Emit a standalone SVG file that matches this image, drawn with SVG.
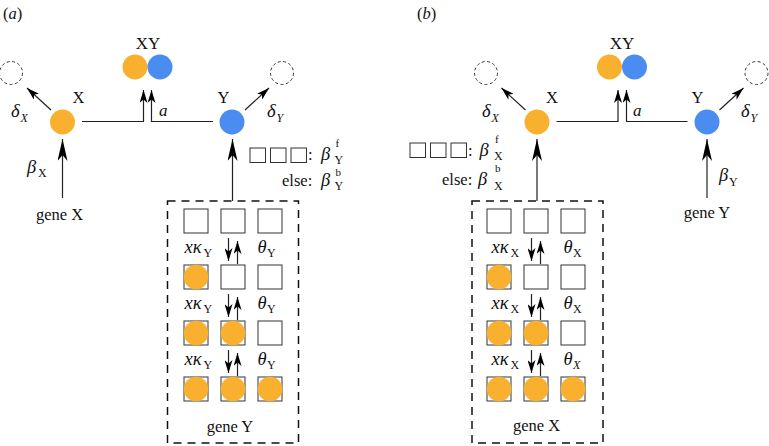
<svg xmlns="http://www.w3.org/2000/svg" width="769" height="446" viewBox="0 0 769 446">
<defs>
<style>
text{font-family:"Liberation Serif","Times New Roman",serif;fill:#111;font-size:16.5px}
.it{font-style:italic}
.gk{font-style:italic;font-size:18.5px}
.sub{font-size:12px}
.sup{font-size:11px}
.c{text-anchor:middle}
.or{fill:#F9B02F}
.bl{fill:#4A8CEF}
.dead{fill:none;stroke:#333;stroke-width:1;stroke-dasharray:3 2.5}
.sq{fill:#fff;stroke:#333;stroke-width:1}
.box{fill:none;stroke:#111;stroke-width:1.5;stroke-dasharray:8 6}
.ln{fill:none;stroke:#222;stroke-width:1.2}
.big{marker-end:url(#mb)}
.sm{marker-end:url(#ms)}
</style>
<marker id="mb" markerUnits="userSpaceOnUse" viewBox="0 0 22 10" refX="22" refY="5" markerWidth="22" markerHeight="10" orient="auto">
<path d="M0,0 L22,5 L0,10 L6,5 z" fill="#000"/>
</marker>
<marker id="ms" markerUnits="userSpaceOnUse" viewBox="0 0 13 8" refX="13" refY="4" markerWidth="13" markerHeight="8" orient="auto">
<path d="M0,0 L13,4 L0,8 L3.5,4 z" fill="#000"/>
</marker>
</defs>

<g id="connectors">
<path class="ln sm" d="M82,121.5 H143.5 V90"/>
<path class="ln sm" d="M213,121.5 H151.5 V90"/>
<path class="ln sm" d="M51,110 L27,88"/>
<path class="ln sm" d="M245,110 L269,88"/>
<path class="ln big" d="M62.5,198 V139"/>
<path class="ln big" d="M232.5,201 V139"/>
<path class="ln sm" d="M228.5,238 V261"/>
<path class="ln sm" d="M237.5,264 V241"/>
<path class="ln sm" d="M228.5,294 V317"/>
<path class="ln sm" d="M237.5,320 V297"/>
<path class="ln sm" d="M228.5,350 V373"/>
<path class="ln sm" d="M237.5,376 V353"/>
<path class="ln sm" d="M556.5,121.5 H618 V90"/>
<path class="ln sm" d="M687.5,121.5 H626.5 V90"/>
<path class="ln sm" d="M525.5,110 L501.5,88"/>
<path class="ln sm" d="M719.5,110 L743.5,88"/>
<path class="ln big" d="M537,201 V139"/>
<path class="ln big" d="M707,198 V139"/>
<path class="ln sm" d="M531.5,238 V261"/>
<path class="ln sm" d="M540.5,264 V241"/>
<path class="ln sm" d="M531.5,294 V317"/>
<path class="ln sm" d="M540.5,320 V297"/>
<path class="ln sm" d="M531.5,350 V373"/>
<path class="ln sm" d="M540.5,376 V353"/>
</g>

<!-- ===== Panel (a) ===== -->
<g id="a-title"><text x="3" y="19">(<tspan class="it">a</tspan>)</text></g>

<g id="a-deadX"><circle class="dead" cx="11" cy="73" r="11.5"/></g>
<g id="a-deadY"><circle class="dead" cx="282" cy="73" r="11.5"/></g>

<g id="a-XY">
<circle class="or" cx="135" cy="67" r="12.5"/>
<circle class="bl" cx="160" cy="67" r="12.5"/>
<text class="c" x="148" y="49" style="font-size:17px">XY</text>
</g>

<g id="a-X">
<circle class="or" cx="62.5" cy="122" r="12.5"/>
<text class="c" x="78.5" y="103">X</text>
</g>
<g id="a-Y">
<circle class="bl" cx="232" cy="122" r="12.5"/>
<text class="c" x="223.5" y="103">Y</text>
</g>

<g id="a-labels">
<text class="gk" x="11" y="117">δ</text><text class="sub it" x="20.5" y="122">X</text>
<text class="gk" x="267" y="117">δ</text><text class="sub it" x="276.5" y="122">Y</text>
<text class="it" x="159" y="116" style="font-size:17px">a</text>
<text class="gk" x="27" y="173">β</text><text class="sub" x="38" y="177">X</text>
</g>

<g id="a-geneX"><text class="c" x="59.5" y="220">gene X</text></g>

<g id="a-legend">
<rect class="sq" x="250" y="148" width="15.5" height="14.5"/>
<rect class="sq" x="270.5" y="148" width="15.5" height="14.5"/>
<rect class="sq" x="291" y="148" width="15.5" height="14.5"/>
<text x="308" y="160">:</text>
<text class="gk" x="321" y="160">β</text><text class="sup" x="335.5" y="147">f</text><text class="sub" x="334.5" y="163.5">Y</text>
<text x="282" y="186">else:</text>
<text class="gk" x="321" y="186">β</text><text class="sup" x="335.5" y="176">b</text><text class="sub" x="334.5" y="189.5">Y</text>
</g>

<g id="a-geneY">
<rect class="box" x="167.5" y="201" width="131" height="242"/>
<rect class="sq" x="184" y="209" width="24" height="24"/>
<rect class="sq" x="221" y="209" width="24" height="24"/>
<rect class="sq" x="258" y="209" width="24" height="24"/>
<rect class="sq" x="184" y="265" width="24" height="24"/>
<rect class="sq" x="221" y="265" width="24" height="24"/>
<rect class="sq" x="258" y="265" width="24" height="24"/>
<rect class="sq" x="184" y="321" width="24" height="24"/>
<rect class="sq" x="221" y="321" width="24" height="24"/>
<rect class="sq" x="258" y="321" width="24" height="24"/>
<rect class="sq" x="184" y="377" width="24" height="24"/>
<rect class="sq" x="221" y="377" width="24" height="24"/>
<rect class="sq" x="258" y="377" width="24" height="24"/>
<circle class="or" cx="196" cy="277" r="12.3"/>
<circle class="or" cx="196" cy="333" r="12.3"/>
<circle class="or" cx="233" cy="333" r="12.3"/>
<circle class="or" cx="196" cy="389" r="12.3"/>
<circle class="or" cx="233" cy="389" r="12.3"/>
<circle class="or" cx="270" cy="389" r="12.3"/>
<text class="gk" x="184.5" y="253">xκ</text><text class="sub" x="203.5" y="257">Y</text>
<text class="gk" x="257.5" y="253">θ</text><text class="sub" x="267" y="257">Y</text>
<text class="gk" x="184.5" y="309">xκ</text><text class="sub" x="203.5" y="313">Y</text>
<text class="gk" x="257.5" y="309">θ</text><text class="sub" x="267" y="313">Y</text>
<text class="gk" x="184.5" y="365">xκ</text><text class="sub" x="203.5" y="369">Y</text>
<text class="gk" x="257.5" y="365">θ</text><text class="sub" x="267" y="369">Y</text>
<text class="c" x="230" y="432">gene Y</text>
</g>

<!-- ===== Panel (b) ===== -->
<g id="b-title"><text x="417" y="19">(<tspan class="it">b</tspan>)</text></g>

<g id="b-deadX"><circle class="dead" cx="486" cy="73" r="11.5"/></g>
<g id="b-deadY"><circle class="dead" cx="756.5" cy="73" r="11.5"/></g>

<g id="b-XY">
<circle class="or" cx="609.5" cy="67" r="12.5"/>
<circle class="bl" cx="634.5" cy="67" r="12.5"/>
<text class="c" x="622" y="49" style="font-size:17px">XY</text>
</g>

<g id="b-X">
<circle class="or" cx="537" cy="122" r="12.5"/>
<text class="c" x="552" y="103">X</text>
</g>
<g id="b-Y">
<circle class="bl" cx="707" cy="122" r="12.5"/>
<text class="c" x="697.5" y="103">Y</text>
</g>

<g id="b-labels">
<text class="gk" x="482" y="117">δ</text><text class="sub it" x="491.5" y="122">X</text>
<text class="gk" x="741" y="117">δ</text><text class="sub it" x="750.5" y="122">Y</text>
<text class="it" x="633" y="116" style="font-size:17px">a</text>
<text class="gk" x="719" y="181">β</text><text class="sub" x="729" y="186">Y</text>
</g>

<g id="b-geneY"><text class="c" x="707" y="218">gene Y</text></g>

<g id="b-legend">
<rect class="sq" x="410" y="143" width="15.5" height="14.5"/>
<rect class="sq" x="430.5" y="143" width="15.5" height="14.5"/>
<rect class="sq" x="451" y="143" width="15.5" height="14.5"/>
<text x="468" y="156">:</text>
<text class="gk" x="479.5" y="156">β</text><text class="sup" x="495" y="142.5">f</text><text class="sub" x="494" y="160">X</text>
<text x="442" y="185">else:</text>
<text class="gk" x="478" y="185">β</text><text class="sup" x="495" y="171.5">b</text><text class="sub" x="494" y="189.5">X</text>
</g>

<g id="b-geneX">
<rect class="box" x="472" y="201" width="131" height="242"/>
<rect class="sq" x="487" y="209" width="24" height="24"/>
<rect class="sq" x="524" y="209" width="24" height="24"/>
<rect class="sq" x="561" y="209" width="24" height="24"/>
<rect class="sq" x="487" y="265" width="24" height="24"/>
<rect class="sq" x="524" y="265" width="24" height="24"/>
<rect class="sq" x="561" y="265" width="24" height="24"/>
<rect class="sq" x="487" y="321" width="24" height="24"/>
<rect class="sq" x="524" y="321" width="24" height="24"/>
<rect class="sq" x="561" y="321" width="24" height="24"/>
<rect class="sq" x="487" y="377" width="24" height="24"/>
<rect class="sq" x="524" y="377" width="24" height="24"/>
<rect class="sq" x="561" y="377" width="24" height="24"/>
<circle class="or" cx="499" cy="277" r="12.3"/>
<circle class="or" cx="499" cy="333" r="12.3"/>
<circle class="or" cx="536" cy="333" r="12.3"/>
<circle class="or" cx="499" cy="389" r="12.3"/>
<circle class="or" cx="536" cy="389" r="12.3"/>
<circle class="or" cx="573" cy="389" r="12.3"/>
<text class="gk" x="491.5" y="253">xκ</text><text class="sub" x="510.5" y="257">X</text>
<text class="gk" x="563.5" y="253">θ</text><text class="sub" x="573" y="257">X</text>
<text class="gk" x="491.5" y="309">xκ</text><text class="sub" x="510.5" y="313">X</text>
<text class="gk" x="563.5" y="309">θ</text><text class="sub" x="573" y="313">X</text>
<text class="gk" x="491.5" y="365">xκ</text><text class="sub" x="510.5" y="369">X</text>
<text class="gk" x="563.5" y="365">θ</text><text class="sub it" x="573" y="369">X</text>
<text class="c" x="536.5" y="431">gene X</text>
</g>
</svg>
